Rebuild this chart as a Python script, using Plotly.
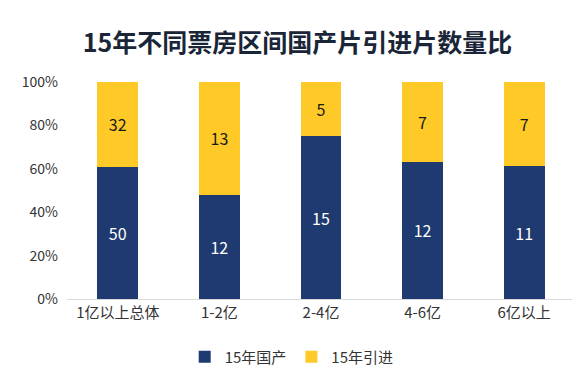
import plotly.graph_objects as go

categories = ["1亿以上总体", "1-2亿", "2-4亿", "4-6亿", "6亿以上"]
domestic = [50, 12, 15, 12, 11]
imported = [32, 13, 5, 7, 7]
series_names = ["15年国产", "15年引进"]
y_ticks = [0, 20, 40, 60, 80, 100]
y_tick_labels = ["0%", "20%", "40%", "60%", "80%", "100%"]

FONT = "Noto Sans CJK SC"
NAVY = "#1F3A70"
YELLOW = "#FFCA28"

fig = go.Figure()
fig.add_trace(go.Bar(
    x=categories, y=domestic, name=series_names[0],
    marker=dict(color=NAVY, line=dict(width=0)),
    text=[str(v) for v in domestic], textposition="inside",
    insidetextanchor="middle",
    textfont=dict(color="white", size=16, family=FONT),
))
fig.add_trace(go.Bar(
    x=categories, y=imported, name=series_names[1],
    marker=dict(color=YELLOW, line=dict(width=0)),
    text=[str(v) for v in imported], textposition="inside",
    insidetextanchor="middle",
    textfont=dict(color="#1a1a1a", size=16, family=FONT),
))

# page body has an 8px margin, so the figure is shrunk and margins shifted by 8px
fig.update_layout(
    barmode="stack", barnorm="percent", bargap=0.6,
    width=572, height=362,
    margin=dict(l=59, r=5, t=74, b=71),
    paper_bgcolor="white", plot_bgcolor="white",
    font=dict(family=FONT, size=15, color="#333333"),
    title=dict(text="<b>15年不同票房区间国产片引进片数量比</b>",
               x=0.506, xanchor="center", y=0.903, yanchor="middle",
               font=dict(size=25, color="#1a2638", family=FONT)),
    legend=dict(orientation="h", xref="container", yref="container",
                x=0.496, xanchor="center", y=0.036, yanchor="middle",
                font=dict(size=15, color="#333333"), traceorder="normal",
                itemwidth=30),
    uniformtext=dict(mode="show", minsize=10),
)
fig.update_yaxes(range=[0, 100], tickvals=y_ticks, ticktext=y_tick_labels,
                 showgrid=False, zeroline=False, showline=False,
                 tickfont=dict(size=14, color="#333333"), ticks="", ticklen=0,
                 ticklabelstandoff=8)
fig.update_xaxes(showline=True, linecolor="#D9D9D9", linewidth=1,
                 tickfont=dict(size=15, color="#333333"), ticks="")

fig.write_html("out.html")
